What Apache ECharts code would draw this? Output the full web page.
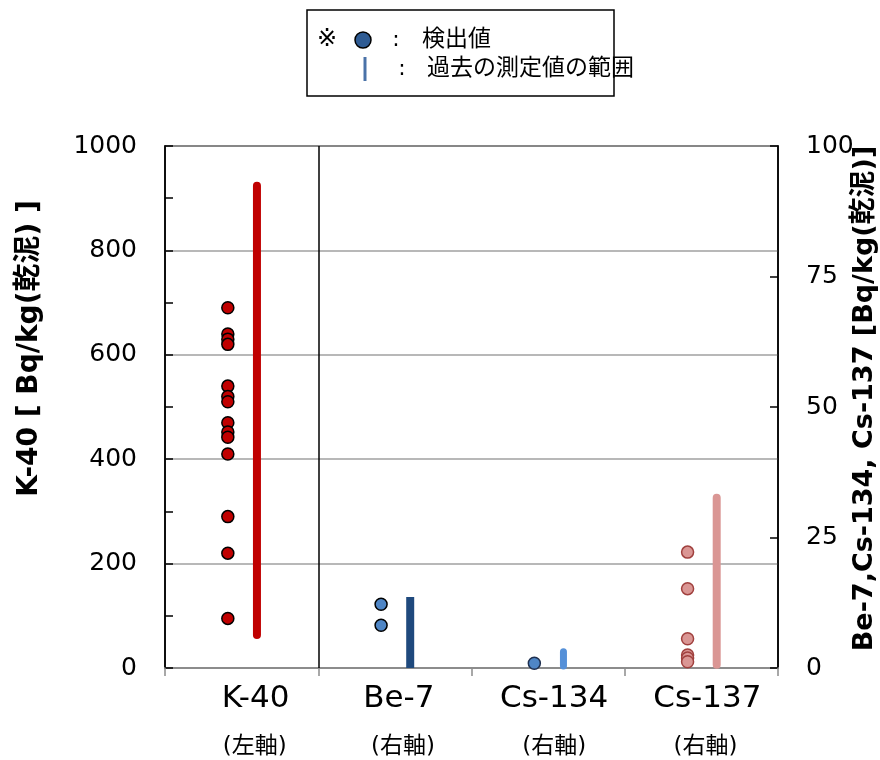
<!DOCTYPE html>
<html>
<head>
<meta charset="utf-8">
<script src="https://cdn.jsdelivr.net/npm/echarts@6/dist/echarts.min.js"></script>
<style>
html,body{margin:0;padding:0;background:#fff;}
#main{width:880px;height:760px;}
</style>
</head>
<body>
<div id="main"></div>
<script>
// ---- data ----
const categories = ['K-40', 'Be-7', 'Cs-134', 'Cs-137'];
const axisSideLabels = ['(左軸)', '(右軸)', '(右軸)', '(右軸)'];
const k40Detected = [690, 640, 630, 620, 540, 520, 510, 470, 452, 442, 410, 290, 220, 95];
const be7Detected = [12.2, 8.2];
const cs134Detected = [0.9];
const cs137Detected = [22.2, 15.2, 5.6, 2.5, 1.9, 1.2];
const k40Range = [63, 924];
const be7Range = [0, 13.6];
const cs134Range = [0.4, 3.1];
const cs137Range = [0.6, 32.6];
const leftTicks = [0, 200, 400, 600, 800, 1000];
const rightTicks = [0, 25, 50, 75, 100];

const FONT = "'DejaVu Sans', 'Noto Sans CJK JP', sans-serif";
const PT_OFF = -0.09, BAR_OFF = 0.10;
const labelShift = [28, 8, 12, 12];   // label nudges (px*2) per category
const subShift = [26, 16, 12, 8];

const detectedSets = [
  {vals: k40Detected, y: 0, fill: '#C00000', border: '#000000'},
  {vals: be7Detected, y: 1, fill: '#4F86C6', border: '#000000'},
  {vals: cs134Detected, y: 1, fill: '#4F86C6', border: '#1F3050'},
  {vals: cs137Detected, y: 1, fill: '#DA9694', border: '#A0403E'}
];
const rangeSets = [
  {r: k40Range, y: 0, color: '#C00000', cap: 'round', w: 8},
  {r: be7Range, y: 1, color: '#1F497D', cap: 'butt', w: 8},
  {r: cs134Range, y: 1, color: '#5590D8', cap: 'round', w: 7},
  {r: cs137Range, y: 1, color: '#DA9694', cap: 'round', w: 8}
];

const series = [];
detectedSets.forEach((d, i) => {
  series.push({
    type: 'scatter', xAxisIndex: 1, yAxisIndex: d.y, symbol: 'circle', symbolSize: 12,
    itemStyle: {color: d.fill, borderColor: d.border, borderWidth: 1.5, opacity: 1},
    data: d.vals.map(v => [i + 0.5 + PT_OFF, v]), z: 5, silent: true
  });
});
rangeSets.forEach((d, i) => {
  series.push({
    type: 'line', xAxisIndex: 1, yAxisIndex: d.y, symbol: 'none', silent: true,
    lineStyle: {color: d.color, width: d.w, cap: d.cap},
    data: d.r.map(v => [i + 0.5 + BAR_OFF, v]), z: 4
  });
});
// separator between left-axis and right-axis categories
series.push({
  type: 'line', xAxisIndex: 1, yAxisIndex: 0, data: [], silent: true,
  markLine: {symbol: 'none', silent: true, label: {show: false},
    lineStyle: {color: '#000', width: 1.5, type: 'solid'}, data: [{xAxis: 1}]}
});

const rich = {};
categories.forEach((c, i) => {
  rich['a' + i] = {fontSize: 31, lineHeight: 46, color: '#000', fontFamily: FONT, padding: [0, 0, 0, labelShift[i]]};
  rich['b' + i] = {fontSize: 23, lineHeight: 50, color: '#000', fontFamily: FONT, padding: [0, 0, 0, subShift[i]]};
});

const chart = echarts.init(document.getElementById('main'));
chart.setOption({
  animation: false,
  backgroundColor: '#fff',
  textStyle: {fontFamily: FONT},
  grid: {left: 165, right: 102, top: 146, bottom: 92, outerBoundsMode: 'none',
         show: true, borderColor: '#000', borderWidth: 1.5},
  xAxis: [
    {type: 'category', data: categories, boundaryGap: true,
     axisLine: {lineStyle: {color: '#8C8C8C', width: 2}},
     axisTick: {show: true, length: 8, lineStyle: {color: '#8C8C8C', width: 1.5}},
     axisLabel: {margin: 8, color: '#000', fontFamily: FONT,
       formatter: (v, i) => '{a' + i + '|' + v + '}\n{b' + i + '|' + axisSideLabels[i] + '}',
       rich: rich},
     splitLine: {show: false}},
    {type: 'value', min: 0, max: 4, show: false, splitLine: {show: false}}
  ],
  yAxis: [
    {type: 'value', min: leftTicks[0], max: leftTicks[leftTicks.length - 1], interval: leftTicks[1] - leftTicks[0],
     position: 'left',
     name: 'K-40 [ Bq/kg(乾泥) ]', nameLocation: 'middle', nameRotate: 90, nameGap: 121, nameMoveOverlap: false,
     nameTextStyle: {fontSize: 28, fontWeight: 'bold', color: '#000', fontFamily: FONT, padding: [0, 0, 0, 117]},
     axisLine: {show: true, lineStyle: {color: '#000', width: 1.5}},
     axisTick: {show: true, inside: true, length: 8, lineStyle: {color: '#000', width: 1.5}},
     minorTick: {show: true, splitNumber: 2, length: 8, lineStyle: {color: '#000', width: 1.5}},
     axisLabel: {fontSize: 25, color: '#000', margin: 28, fontFamily: FONT, formatter: v => String(v)},
     splitLine: {show: true, lineStyle: {color: '#A0A0A0', width: 1.5}}},
    {type: 'value', min: rightTicks[0], max: rightTicks[rightTicks.length - 1], interval: rightTicks[1] - rightTicks[0],
     position: 'right',
     name: 'Be-7,Cs-134, Cs-137 [Bq/kg(乾泥)]', nameLocation: 'middle', nameRotate: 90, nameGap: 73, nameMoveOverlap: false,
     nameTextStyle: {fontSize: 27, fontWeight: 'bold', color: '#000', fontFamily: FONT, padding: [0, 0, 0, 17]},
     axisLine: {show: true, lineStyle: {color: '#000', width: 1.5}},
     axisTick: {show: true, inside: true, length: 8, lineStyle: {color: '#000', width: 1.5}},
     axisLabel: {fontSize: 25, color: '#000', margin: 28, fontFamily: FONT, formatter: v => String(v)},
     splitLine: {show: false}}
  ],
  graphic: [
    {type: 'rect', shape: {x: 307, y: 10, width: 307, height: 86},
     style: {fill: '#fff', stroke: '#000', lineWidth: 1.5}, z: 10},
    {type: 'text', x: 317, y: 40, style: {text: '※', font: '24px ' + FONT, fill: '#000', verticalAlign: 'middle'}, z: 11},
    {type: 'circle', shape: {cx: 363, cy: 40, r: 8},
     style: {fill: '#2F5C94', stroke: '#000', lineWidth: 1.5}, z: 11},
    {type: 'text', x: 396, y: 40, style: {text: ':', font: '22px ' + FONT, fill: '#000', align: 'center', verticalAlign: 'middle'}, z: 11},
    {type: 'text', x: 422, y: 40, style: {text: '検出値', font: '23px ' + FONT, fill: '#000', verticalAlign: 'middle'}, z: 11},
    {type: 'line', shape: {x1: 365, y1: 57, x2: 365, y2: 81},
     style: {stroke: '#4A72A8', lineWidth: 3}, z: 11},
    {type: 'text', x: 402, y: 69, style: {text: ':', font: '22px ' + FONT, fill: '#000', align: 'center', verticalAlign: 'middle'}, z: 11},
    {type: 'text', x: 427, y: 69, style: {text: '過去の測定値の範囲', font: '23px ' + FONT, fill: '#000', verticalAlign: 'middle'}, z: 11}
  ],
  series: series
});
</script>
</body>
</html>
